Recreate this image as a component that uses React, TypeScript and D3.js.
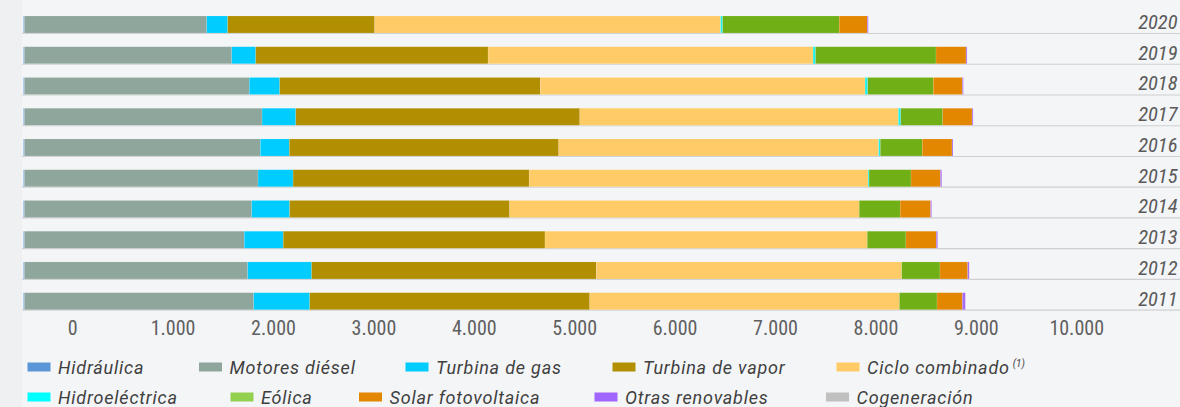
import React from "react";
import * as d3 from "d3";

const years = ["2020", "2019", "2018", "2017", "2016", "2015", "2014", "2013", "2012", "2011"];
const hidraulica = [10, 10, 10, 10, 10, 10, 10, 10, 10, 10];
const motoresDiesel = [1815, 2064, 2239, 2366, 2349, 2326, 2263, 2189, 2223, 2283];
const turbinaGas = [209, 239, 303, 336, 289, 349, 378, 388, 637, 558];
const turbinaVapor = [1464, 2314, 2596, 2829, 2683, 2351, 2191, 2607, 2835, 2789];
const cicloCombinado = [3446, 3237, 3234, 3173, 3187, 3376, 3482, 3210, 3042, 3084];
const hidroelectrica = [20, 25, 27, 24, 16, 10, 0, 0, 0, 0];
const eolica = [1161, 1200, 653, 418, 418, 418, 408, 385, 381, 375];
const solar = [279, 299, 289, 292, 296, 292, 303, 302, 276, 252];
const otrasRenovables = [10, 10, 10, 10, 10, 14, 10, 14, 15, 30];
const cogeneracion = [0, 0, 0, 0, 0, 0, 0, 0, 0, 0];
const tickValues = [0, 1000, 2000, 3000, 4000, 5000, 6000, 7000, 8000, 9000, 10000];

const seriesKeys = [
  "Hidráulica",
  "Motores diésel",
  "Turbina de gas",
  "Turbina de vapor",
  "Ciclo combinado",
  "Hidroeléctrica",
  "Eólica",
  "Solar fotovoltaica",
  "Otras renovables",
  "Cogeneración",
];
const seriesValues = [
  hidraulica,
  motoresDiesel,
  turbinaGas,
  turbinaVapor,
  cicloCombinado,
  hidroelectrica,
  eolica,
  solar,
  otrasRenovables,
  cogeneracion,
];

const barColors = ["#5b97d6", "#8ea69b", "#00ccff", "#b18f00", "#fecb67", "#1ff0ea", "#71af16", "#e38600", "#a86cf0", "#c0c0c0"];
const legendColors = ["#5b97d6", "#8ea69b", "#00ccff", "#b18f00", "#fecb67", "#00ffff", "#92d050", "#e38600", "#a066ff", "#c0c0c0"];

// legend layout (positions only)
const legendPos = [
  [27.5, 0], [199, 0], [405.5, 0], [612.5, 0], [836.5, 0],
  [27.5, 1], [230.5, 1], [359, 1], [594.5, 1], [826, 1],
];

const W = 1180;
const H = 407;
const NARROW = "'Liberation Sans Narrow', 'Roboto Condensed', 'DejaVu Sans Condensed', Roboto, sans-serif";
const LEGEND_FONT = "Roboto, 'Liberation Sans', sans-serif";

export default function App() {
  React.useEffect(() => {
    document.body.style.margin = "0";
    document.body.style.background = "#f4f5f7";
  }, []);

  const table = years.map((y, i) => {
    const row: any = { year: y };
    seriesKeys.forEach((k, j) => (row[k] = seriesValues[j][i]));
    return row;
  });
  const stacked = d3.stack().keys(seriesKeys)(table);

  const x = d3.scaleLinear().domain([0, 10000]).range([23.5, 1027.5]);
  const xAxis = d3.scaleLinear().domain([0, 10000]).range([72.7, 1076.7]);
  const y = d3.scaleBand().domain(years).range([16, 309.7]).paddingInner(0.447).paddingOuter(0);
  const bw = y.bandwidth();

  return (
    <svg width={W} height={H} style={{ position: "absolute", left: 0, top: 0, display: "block" }} fontFamily={NARROW}>
      <rect x={0} y={0} width={W} height={H} fill="#f4f5f7" />
      <rect x={0} y={0} width={22} height={H} fill="#eff0f2" />
      {years.map((yr) => (
        <g key={yr}>
          <line x1={22} x2={W} y1={(y(yr) as number) + bw + 0.5} y2={(y(yr) as number) + bw + 0.5} stroke="#cfd0d3" strokeWidth={1.2} />
          <text
            x={1177.5}
            y={(y(yr) as number) + bw - 4}
            textAnchor="end"
            fontStyle="italic"
            fontSize={20.5}
            fill="#5a5a5a"
          >
            {yr}
          </text>
        </g>
      ))}
      {stacked.map((s, j) => (
        <g key={s.key} fill={barColors[j]}>
          {s.map((d, i) => {
            const w = x(d[1]) - x(d[0]);
            if (w <= 0) return null;
            return (
              <rect
                key={i}
                x={x(d[0])}
                y={y(years[i]) as number}
                width={w}
                height={bw}
                stroke="#ffffff"
                strokeOpacity={0.25}
                strokeWidth={0.5}
              />
            );
          })}
        </g>
      ))}
      {tickValues.map((v) => (
        <text key={v} x={xAxis(v)} y={334.5} textAnchor="middle" fontSize={20} fill="#5f5f5f">
          {d3.format(",")(v).replace(/,/g, ".")}
        </text>
      ))}
      {seriesKeys.map((k, j) => {
        const [lx, row] = legendPos[j];
        const sy = row === 0 ? 362.5 : 392.5;
        const ty = row === 0 ? 374 : 403.5;
        return (
          <g key={k}>
            <rect x={lx} y={sy} width={23} height={9} fill={legendColors[j]} />
            <text x={lx + 30.5} y={ty} fontSize={18} letterSpacing={0.8} fontStyle="italic" fill="#3f3f3f" fontFamily={LEGEND_FONT}>
              {k}
              {k === "Ciclo combinado" ? (
                <tspan fontSize={10} dx={3} dy={-7} letterSpacing={0}>
                  (1)
                </tspan>
              ) : null}
            </text>
          </g>
        );
      })}
    </svg>
  );
}
